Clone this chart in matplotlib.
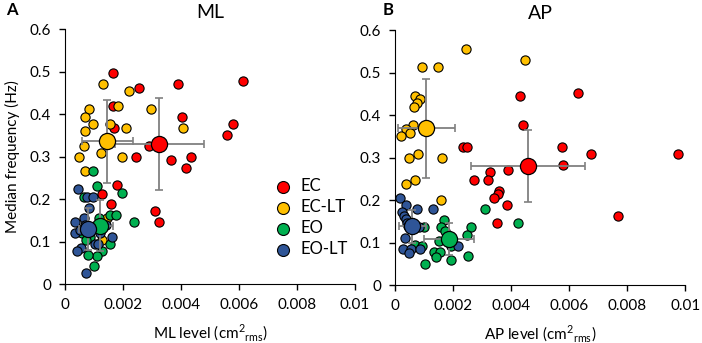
import matplotlib
matplotlib.use("Agg")
import matplotlib.pyplot as plt

plt.rcParams['font.family'] = ['Lato', 'DejaVu Sans']
plt.rcParams['mathtext.fontset'] = 'custom'
plt.rcParams['mathtext.rm'] = 'Lato'

groups = ["EC", "EC-LT", "EO", "EO-LT"]
colors = {"EC": "#ff0000", "EC-LT": "#ffc000", "EO": "#00b050", "EO-LT": "#2f5597"}

# ML panel
ml_x = {
  "EC": [0.00164, 0.00255, 0.00389, 0.00615, 0.00164, 0.00168, 0.00404, 0.00578, 0.00559, 0.00290,
         0.00246, 0.00366, 0.00435, 0.00418, 0.00179, 0.00129, 0.00158, 0.00310, 0.00324],
  "EC-LT": [0.00130, 0.00222, 0.00183, 0.00084, 0.00070, 0.00095, 0.00069, 0.00154, 0.00209, 0.00296,
            0.00406, 0.00067, 0.00123, 0.00195, 0.00049, 0.00069, 0.00145, 0.00126],
  "EO": [0.00096, 0.00111, 0.00195, 0.00067, 0.00156, 0.00175, 0.00239, 0.00118, 0.00060, 0.00085,
         0.00072, 0.00156, 0.00126, 0.00110, 0.00080, 0.00099],
  "EO-LT": [0.00046, 0.00075, 0.00096, 0.00082, 0.00067, 0.00034, 0.00068, 0.00036, 0.00053, 0.00142,
            0.00119, 0.00162, 0.00104, 0.00113, 0.00056, 0.00041, 0.00073],
}
ml_y = {
  "EC": [0.497, 0.462, 0.470, 0.479, 0.420, 0.367, 0.394, 0.376, 0.351, 0.326,
         0.300, 0.293, 0.300, 0.274, 0.232, 0.213, 0.189, 0.171, 0.146],
  "EC-LT": [0.471, 0.454, 0.420, 0.411, 0.394, 0.376, 0.360, 0.376, 0.368, 0.411,
            0.367, 0.326, 0.309, 0.300, 0.300, 0.266, 0.155, 0.104],
  "EO": [0.266, 0.231, 0.215, 0.205, 0.162, 0.162, 0.146, 0.155, 0.119, 0.111,
         0.104, 0.094, 0.078, 0.067, 0.068, 0.043],
  "EO-LT": [0.223, 0.205, 0.205, 0.180, 0.155, 0.146, 0.140, 0.119, 0.127, 0.138,
            0.119, 0.111, 0.094, 0.094, 0.085, 0.078, 0.025],
}
ml_mean_x = {"EC": 0.00325, "EC-LT": 0.00146, "EO": 0.00122, "EO-LT": 0.00078}
ml_mean_y = {"EC": 0.329, "EC-LT": 0.336, "EO": 0.137, "EO-LT": 0.130}
ml_err_x = {"EC": 0.00153, "EC-LT": 0.00089, "EO": 0.00044, "EO-LT": 0.00030}
ml_err_y = {"EC": 0.108, "EC-LT": 0.098, "EO": 0.060, "EO-LT": 0.050}

# AP panel
ap_x = {
  "EC": [0.00432, 0.00631, 0.00439, 0.00234, 0.00246, 0.00574, 0.00674, 0.00976, 0.00580, 0.00389,
         0.00328, 0.00273, 0.00321, 0.00359, 0.00355, 0.00342, 0.00387, 0.00352, 0.00769],
  "EC-LT": [0.00243, 0.00447, 0.00093, 0.00147, 0.00068, 0.00084, 0.00076, 0.00065, 0.00063, 0.00038,
            0.00052, 0.00021, 0.00078, 0.00048, 0.00163, 0.00069, 0.00036, 0.00157],
  "EO": [0.00310, 0.00424, 0.00169, 0.00157, 0.00173, 0.00262, 0.00247, 0.00098, 0.00152, 0.00194,
         0.00069, 0.00091, 0.00133, 0.00156, 0.00142, 0.00250, 0.00194, 0.00104],
  "EO-LT": [0.00016, 0.00037, 0.00076, 0.00131, 0.00025, 0.00030, 0.00036, 0.00039, 0.00044, 0.00082,
            0.00034, 0.00026, 0.00055, 0.00087, 0.00048, 0.00218],
}
ap_y = {
  "EC": [0.444, 0.453, 0.376, 0.325, 0.325, 0.325, 0.309, 0.309, 0.282, 0.272,
         0.265, 0.248, 0.248, 0.222, 0.214, 0.205, 0.188, 0.146, 0.162],
  "EC-LT": [0.555, 0.529, 0.513, 0.513, 0.444, 0.437, 0.428, 0.419, 0.376, 0.368,
            0.358, 0.350, 0.309, 0.299, 0.299, 0.248, 0.239, 0.200],
  "EO": [0.180, 0.146, 0.154, 0.136, 0.128, 0.137, 0.118, 0.136, 0.103, 0.092,
         0.094, 0.092, 0.077, 0.077, 0.066, 0.069, 0.058, 0.050],
  "EO-LT": [0.205, 0.188, 0.179, 0.179, 0.171, 0.163, 0.155, 0.147, 0.139, 0.136,
            0.111, 0.085, 0.085, 0.085, 0.076, 0.093],
}
ap_mean_x = {"EC": 0.00458, "EC-LT": 0.00107, "EO": 0.00185, "EO-LT": 0.00059}
ap_mean_y = {"EC": 0.280, "EC-LT": 0.369, "EO": 0.108, "EO-LT": 0.138}
ap_err_x = {"EC": 0.00195, "EC-LT": 0.00099, "EO": 0.00085, "EO-LT": 0.00046}
ap_err_y = {"EC": 0.085, "EC-LT": 0.116, "EO": 0.037, "EO-LT": 0.038}

xticks = [0, 0.002, 0.004, 0.006, 0.008, 0.01]
xticklabels = ["0", "0.002", "0.004", "0.006", "0.008", "0.01"]
yticks = [0, 0.1, 0.2, 0.3, 0.4, 0.5, 0.6]
yticklabels = ["0", "0.1", "0.2", "0.3", "0.4", "0.5", "0.6"]


def draw_panel(ax, xs, ys, mx, my, ex, ey, title, xlabel):
  """
  Scatter of each subject plus group mean with SD bars
  """
  for g in groups:
    ax.scatter(xs[g], ys[g], s=44, color=colors[g], edgecolor="black",
               linewidth=0.8, zorder=3, label=g)
  for g in groups:
    ax.errorbar(mx[g], my[g], xerr=ex[g], yerr=ey[g], fmt="none", ecolor="#808080",
                elinewidth=1.3, capsize=3, capthick=1.2, zorder=4)
    ax.scatter([mx[g]], [my[g]], s=135, color=colors[g], edgecolor="black",
               linewidth=0.9, zorder=5)
  ax.set_xlim(0, 0.01)
  ax.set_ylim(0, 0.6)
  ax.set_xticks(xticks)
  ax.set_xticklabels(xticklabels)
  ax.set_yticks(yticks)
  ax.set_yticklabels(yticklabels)
  ax.spines["top"].set_visible(False)
  ax.spines["right"].set_visible(False)
  ax.tick_params(labelsize=11, length=4, width=1, pad=6)
  ax.set_title(title, fontsize=14, pad=8)
  ax.set_xlabel(xlabel, fontsize=11, labelpad=7)


fig = plt.figure(figsize=(7.02, 3.43), dpi=100)
ax1 = fig.add_axes([0.0926, 0.172, 0.413, 0.743])
ax2 = fig.add_axes([0.563, 0.169, 0.413, 0.743])

draw_panel(ax1, ml_x, ml_y, ml_mean_x, ml_mean_y, ml_err_x, ml_err_y, "ML",
           r"ML level (cm$^{2}$$_{\rm rms}$)")
draw_panel(ax2, ap_x, ap_y, ap_mean_x, ap_mean_y, ap_err_x, ap_err_y, "AP",
           r"AP level (cm$^{2}$$_{\rm rms}$)")
ax1.set_ylabel("Median frequency (Hz)", fontsize=11, labelpad=7)

ax1.legend(loc="lower right", bbox_to_anchor=(1.0, 0.08), frameon=False, fontsize=12,
           handletextpad=0.1, labelspacing=0.3, borderaxespad=0, markerscale=1.3)

fig.text(0.008, 0.955, "A", fontsize=12, fontweight="bold")
fig.text(0.545, 0.955, "B", fontsize=12, fontweight="bold")

fig.savefig("out.png", dpi=100)
